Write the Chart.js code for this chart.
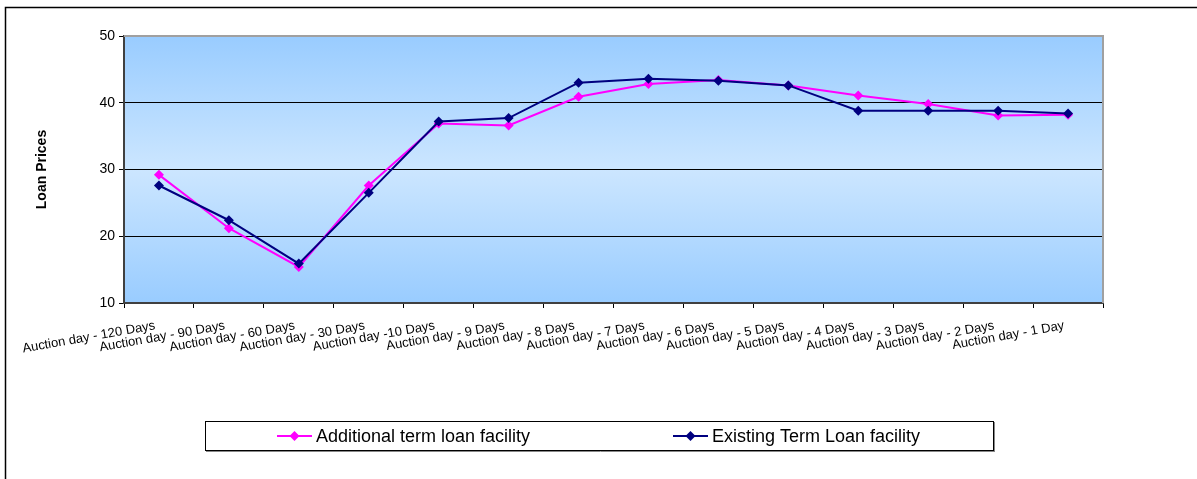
<!DOCTYPE html>
<html>
<head>
<meta charset="utf-8">
<script src="https://cdn.jsdelivr.net/npm/chart.js@4"></script>
<style>
  html, body { margin: 0; padding: 0; background: #fff; }
  #wrap { width: 1197px; height: 479px; position: relative; }
</style>
</head>
<body>
<div id="wrap"><canvas id="myChart" width="1197" height="479"></canvas></div>
<script>
'use strict';

// ---- data ----
var categories = ['Auction day - 120 Days', 'Auction day - 90 Days', 'Auction day - 60 Days',
  'Auction day - 30 Days', 'Auction day -10 Days', 'Auction day - 9 Days', 'Auction day - 8 Days',
  'Auction day - 7 Days', 'Auction day - 6 Days', 'Auction day - 5 Days', 'Auction day - 4 Days',
  'Auction day - 3 Days', 'Auction day - 2 Days', 'Auction day - 1 Day'];
var additionalLoan = [29.2, 21.2, 15.4, 27.6, 36.9, 36.6, 40.9, 42.8, 43.4, 42.6, 41.1, 39.8, 38.1, 38.2];
var existingLoan = [27.6, 22.4, 15.9, 26.5, 37.2, 37.7, 43.0, 43.6, 43.3, 42.6, 38.8, 38.8, 38.8, 38.4];
var seriesNames = ['Additional term loan facility', 'Existing Term Loan facility'];
var yTicks = [10, 20, 30, 40, 50];
var yTitle = 'Loan Prices';

var FONT = '"Liberation Sans", Arial, sans-serif';

//------- background, frames and legend box
var plotDecor = {
  id: 'plotDecor',
  beforeDraw: function(chart) {
    var c = chart.ctx, a = chart.chartArea;
    c.save();
    c.fillStyle = '#fff';
    c.fillRect(0, 0, chart.width, chart.height);
    // outer frame (only left and top visible)
    c.strokeStyle = '#000';
    c.lineWidth = 1.5;
    c.beginPath();
    c.moveTo(5.5, chart.height);
    c.lineTo(5.5, 7.5);
    c.lineTo(chart.width, 7.5);
    c.stroke();
    // plot gradient
    var g = c.createLinearGradient(0, a.top, 0, a.bottom);
    g.addColorStop(0, '#99ccff');
    g.addColorStop(0.5, '#cce6ff');
    g.addColorStop(1, '#99ccff');
    c.fillStyle = g;
    c.fillRect(a.left, a.top, a.right - a.left, a.bottom - a.top);
    c.restore();
  },
  beforeDatasetsDraw: function(chart) {
    var c = chart.ctx, a = chart.chartArea;
    c.save();
    c.strokeStyle = '#a0a0a0';
    c.lineWidth = 2;
    c.beginPath();
    c.moveTo(a.left, a.top);
    c.lineTo(a.right, a.top);
    c.lineTo(a.right, a.bottom);
    c.stroke();
    c.restore();
  },
  afterDraw: function(chart) {
    var c = chart.ctx;
    c.save();
    // legend box
    c.strokeStyle = '#000';
    c.lineWidth = 1;
    c.strokeRect(205.5, 421.5, 788, 29);
    c.strokeStyle = '#888';
    c.beginPath();
    c.moveTo(206, 451.5); c.lineTo(995, 451.5);
    c.moveTo(994.5, 422); c.lineTo(994.5, 452);
    c.stroke();
    var items = [{x: 277}, {x: 673}];
    chart.data.datasets.forEach(function(ds, i) {
      var x = items[i].x, y = 436;
      c.strokeStyle = ds.borderColor;
      c.lineWidth = 2;
      c.beginPath();
      c.moveTo(x, y); c.lineTo(x + 35, y);
      c.stroke();
      c.fillStyle = ds.borderColor;
      c.beginPath();
      c.moveTo(x + 17.5, y - 5); c.lineTo(x + 22.5, y); c.lineTo(x + 17.5, y + 5); c.lineTo(x + 12.5, y);
      c.closePath();
      c.fill();
      c.fillStyle = '#000';
      c.font = '18px ' + FONT;
      c.textBaseline = 'middle';
      c.fillText(ds.label, x + 39, y + 1);
    });
    c.restore();
  }
};

var ctx = document.getElementById('myChart').getContext('2d');
var chart = new Chart(ctx, {
  type: 'line',
  data: {
    labels: categories,
    datasets: [{
      label: seriesNames[0],
      data: additionalLoan,
      borderColor: '#ff00ff',
      backgroundColor: '#ff00ff',
      borderWidth: 2,
      pointStyle: 'rectRot',
      pointRadius: 5,
      pointBorderWidth: 0,
      tension: 0,
      order: 1
    }, {
      label: seriesNames[1],
      data: existingLoan,
      borderColor: '#000080',
      backgroundColor: '#000080',
      borderWidth: 2,
      pointStyle: 'rectRot',
      pointRadius: 5,
      pointBorderWidth: 0,
      tension: 0,
      order: 0
    }]
  },
  options: {
    responsive: false,
    animation: false,
    layout: { padding: { left: 30, top: 36, right: 94, bottom: 76 } },
    plugins: {
      legend: { display: false },
      tooltip: { enabled: false }
    },
    scales: {
      x: {
        offset: true,
        grid: { display: true, drawOnChartArea: false, offset: true, tickLength: 5, tickColor: '#000', lineWidth: 1 },
        border: { display: true, color: '#404040', width: 2 },
        ticks: {
          autoSkip: false, minRotation: 10, maxRotation: 10, padding: 10, labelOffset: -4,
          color: '#000', font: { family: FONT, size: 13 }
        },
        afterFit: function(s) { s.height = 100; }
      },
      y: {
        min: 10, max: 50,
        afterBuildTicks: function(s) { s.ticks = yTicks.map(function(v) { return {value: v}; }); },
        grid: {
          tickLength: 5, tickColor: '#000',
          color: function(c) { return (c.tick && (c.tick.value === 10 || c.tick.value === 50)) ? 'rgba(0,0,0,0)' : '#000'; },
          lineWidth: 1
        },
        border: { display: true, color: '#404040', width: 2 },
        ticks: { color: '#000', padding: 4, font: { family: FONT, size: 14 } },
        title: { display: true, text: yTitle, color: '#000', font: { family: FONT, size: 14, weight: 'bold' } },
        afterFit: function(s) { s.width = 94; }
      }
    }
  },
  plugins: [plotDecor]
});
</script>
</body>
</html>
